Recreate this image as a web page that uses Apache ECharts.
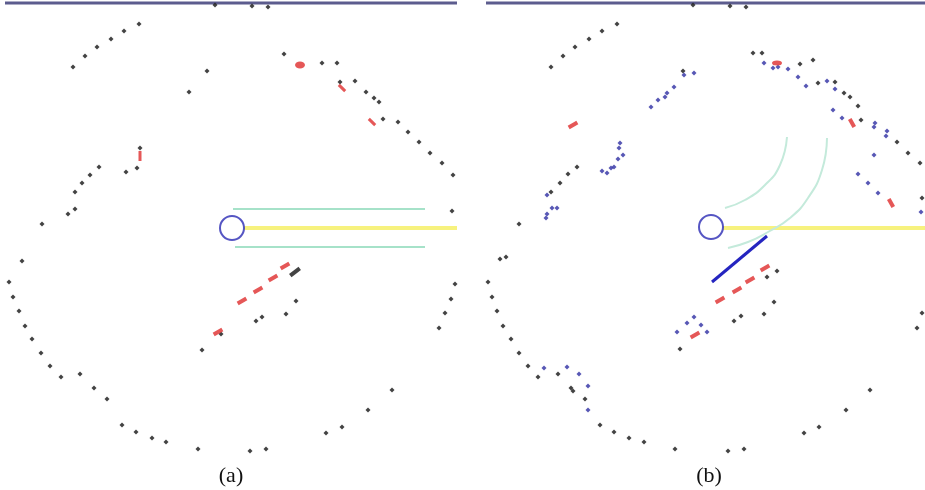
<!DOCTYPE html>
<html><head><meta charset="utf-8">
<script src="https://cdn.jsdelivr.net/npm/echarts@6/dist/echarts.min.js"></script>
<style>html,body{margin:0;padding:0;background:#fff}#c{width:925px;height:490px}</style>
</head><body><div id="c"></div>
<script>
// Panel (a) scan points (image pixel coordinates)
const aBlack = [[215,5],[252,6],[268,7],[73,67],[85,56],[97,47],[111,39],[124,31],[139,24],[207,71],[189,92],[284,54],[322,63],[337,63],[340,82],[355,81],[366,92],[374,98],[379,102],[383,119],[398,122],[408,132],[419,142],[430,153],[442,163],[453,175],[452,211],[140,148],[137,168],[126,172],[99,167],[90,175],[82,183],[75,192],[75,209],[68,214],[42,224],[22,261],[9,282],[13,297],[19,311],[25,326],[32,339],[41,353],[50,366],[61,377],[80,374],[94,388],[107,399],[122,425],[136,432],[152,438],[166,442],[198,449],[250,451],[266,449],[326,433],[342,427],[368,410],[392,390],[455,284],[451,299],[445,313],[439,328],[296,301],[286,314],[262,317],[256,321],[221,334],[202,350]];
const aBlackDash = [[295,272]];
const aRedUp = [[285,266],[273,278],[258,290],[242,301],[218,332]];
const aRedDown = [[342,88],[372,122]];
const aRedVert = [[140,156]];
const aRedBlob = [[300,65]];
const aRobot = [[232,228]];
const aYellow = [[244,228],[457,228]];
const aGreenTop = [[233,209],[425,209]];
const aGreenBottom = [[235,247],[425,247]];
const aTopBar = [[5,3],[457,3]];

// Panel (b) scan points
const bBlack = [[693,5],[730,6],[746,7],[551,67],[563,56],[575,47],[589,39],[602,31],[617,24],[577,167],[568,174],[560,183],[551,192],[519,224],[753,53],[762,53],[800,64],[813,60],[818,83],[835,82],[844,93],[850,97],[858,106],[861,120],[897,142],[908,153],[920,163],[922,198],[500,259],[506,257],[488,282],[492,297],[497,311],[503,326],[511,339],[519,353],[528,366],[538,377],[558,374],[571,388],[573,391],[585,399],[600,425],[614,432],[629,438],[644,442],[675,449],[728,451],[744,449],[804,433],[819,427],[846,410],[870,390],[922,313],[917,328],[680,349],[767,277],[777,271],[774,302],[764,314],[741,316],[734,321],[683,71]];
const bBlue = [[684,75],[694,73],[674,87],[667,93],[665,97],[658,100],[651,107],[620,143],[619,148],[623,155],[618,159],[614,167],[611,168],[607,173],[602,171],[547,195],[552,208],[557,208],[547,214],[546,218],[764,63],[773,68],[778,67],[788,69],[798,77],[806,86],[827,81],[835,89],[833,110],[842,118],[875,123],[874,127],[887,131],[886,136],[874,155],[858,174],[868,183],[878,193],[921,212],[544,368],[567,367],[579,374],[588,386],[588,410],[694,317],[687,323],[701,325],[677,332],[707,332]];
const bRedUp = [[573,125],[765,268],[750,280],[737,290],[720,300],[695,335]];
const bRedDown = [[891,203],[852,123]];
const bRedBlob = [[777,63]];
const bRobot = [[711,227]];
const bYellow = [[723,228],[925,228]];
const bArcInner = [[787,137],[780,165],[765,185],[745,200],[725,208]];
const bArcOuter = [[827,138],[822,170],[808,198],[790,218],[768,232],[748,242],[728,248]];
const bBlueLine = [[712,282],[767,236]];
const bTopBar = [[486,3],[925,3]];

const labels = ['(a)', '(b)'];

function line(data, color, width, smooth) {
  return {type:'line', data, symbol:'none', smooth: !!smooth, silent:true,
    lineStyle:{color, width}, z:1};
}
function pts(data, color, size, symbol, rot) {
  return {type:'scatter', data, symbol: symbol || 'circle', symbolSize: size,
    symbolRotate: rot || 0, itemStyle:{color, opacity:0.85}, silent:true, z:3};
}

const chart = echarts.init(document.getElementById('c'));
chart.setOption({
  animation:false,
  backgroundColor:'#fff',
  grid:{left:0,right:0,top:0,bottom:0},
  xAxis:{type:'value',min:0,max:925,show:false},
  yAxis:{type:'value',min:0,max:490,inverse:true,show:false},
  graphic:[
    {type:'text', x:231, y:465, style:{text:labels[0], font:'22px "Liberation Serif", serif', fill:'#111', align:'center', verticalAlign:'top'}},
    {type:'text', x:709, y:465, style:{text:labels[1], font:'22px "Liberation Serif", serif', fill:'#111', align:'center', verticalAlign:'top'}}
  ],
  series:[
    line(aTopBar,'#5c5c8e',3),
    line(bTopBar,'#5c5c8e',3),
    line(aYellow,'#f7f27e',4),
    line(bYellow,'#f7f27e',4),
    line(aGreenTop,'#a6e2c9',2),
    line(aGreenBottom,'#a6e2c9',2),
    line(bArcInner,'#c4eadb',2,true),
    line(bArcOuter,'#c4eadb',2,true),
    line(bBlueLine,'#2525c0',3),
    pts(aBlack,'#222',5,'diamond'),
    pts(bBlack,'#222',5,'diamond'),
    pts(bBlue,'#3a3aa8',5,'diamond'),
    pts(aBlackDash,'#222',[12,4],'rect',38),
    pts(aRedUp,'#e03a3a',[10,4],'rect',30),
    pts(bRedUp,'#e03a3a',[10,4],'rect',30),
    pts(aRedDown,'#e03a3a',[9,3],'rect',-45),
    pts(bRedDown,'#e03a3a',[9,4],'rect',-60),
    pts(aRedVert,'#e03a3a',[3,10],'rect',0),
    pts(aRedBlob,'#e03a3a',[10,7],'circle',0),
    pts(bRedBlob,'#e03a3a',[10,5],'circle',0),
    {type:'scatter', data:aRobot, symbol:'circle', symbolSize:24, silent:true, z:4,
      itemStyle:{color:'rgba(255,255,255,0)', borderColor:'#2a2ab4', borderWidth:2}},
    {type:'scatter', data:bRobot, symbol:'circle', symbolSize:24, silent:true, z:4,
      itemStyle:{color:'rgba(255,255,255,0)', borderColor:'#2a2ab4', borderWidth:2}}
  ]
});
</script></body></html>
